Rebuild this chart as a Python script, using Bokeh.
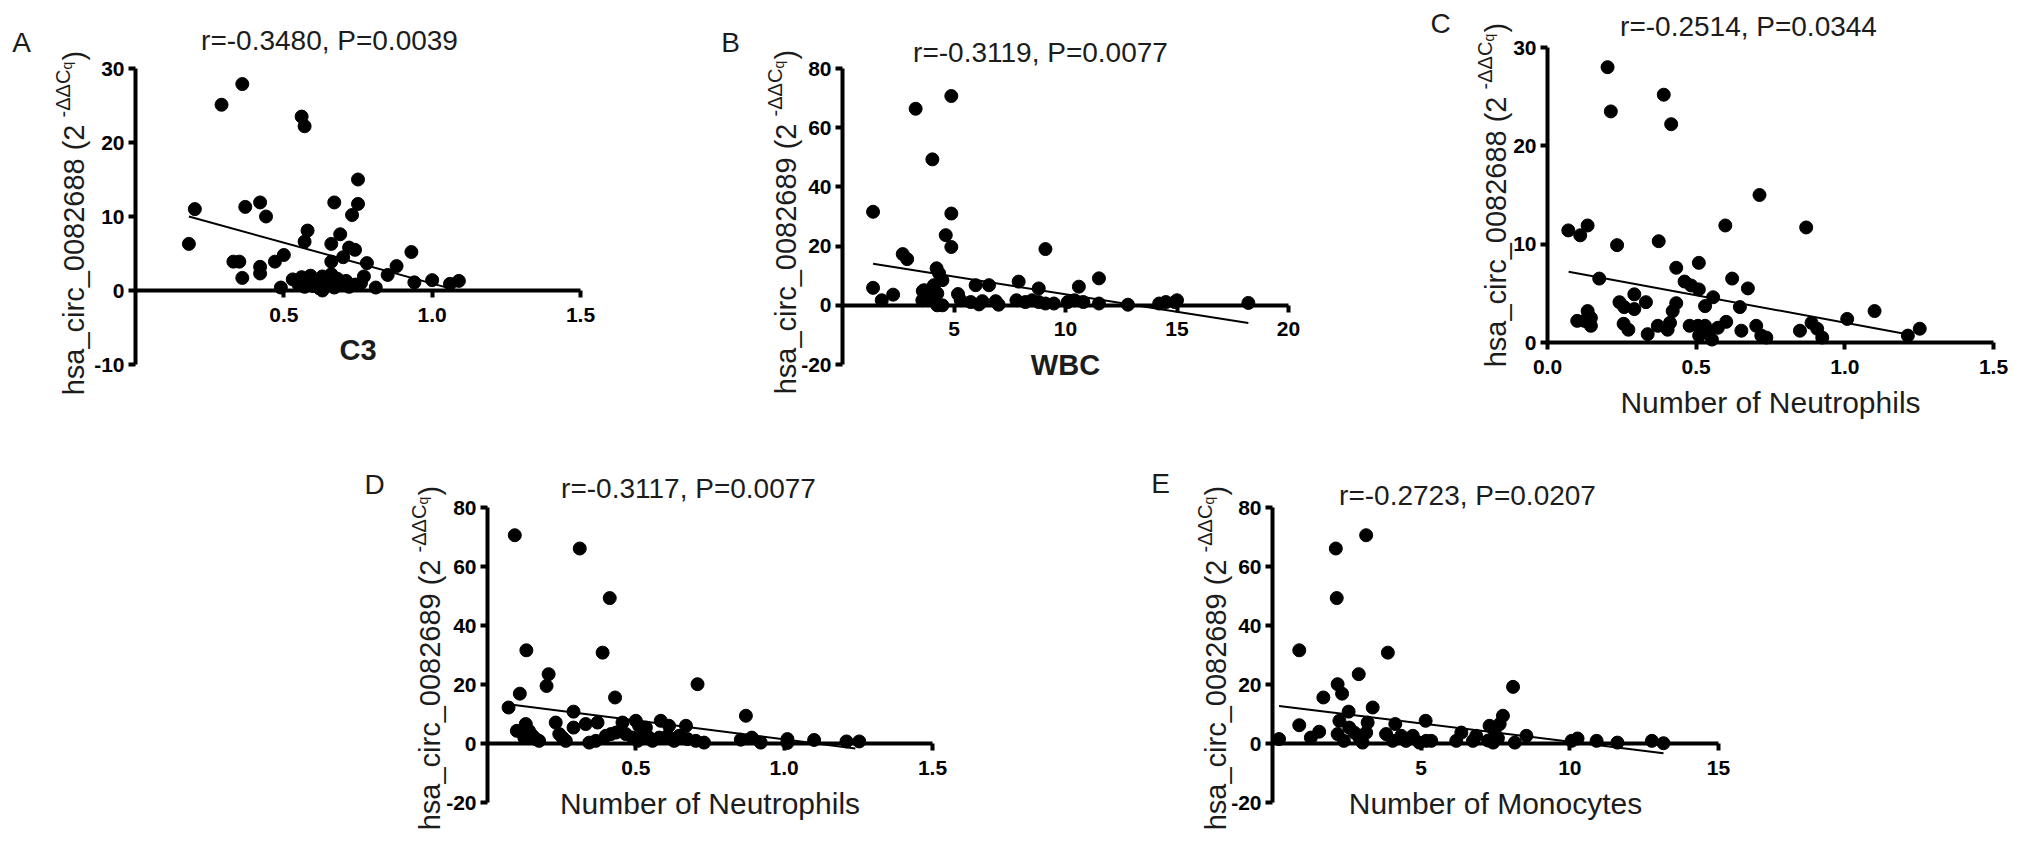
import numpy as np
from bokeh.embed import file_html
from bokeh.layouts import column, row
from bokeh.models import ColumnDataSource, FixedTicker, Label, NumeralTickFormatter, Range1d
from bokeh.plotting import figure
from bokeh.resources import INLINE

FONT = "Liberation Sans"
INK = "#1c1c1c"

# --- values ---
# A: C3 vs hsa_circ_0082688
c3_x = [0.18, 0.20, 0.29, 0.36, 0.33, 0.35, 0.36, 0.37, 0.42, 0.44, 0.42, 0.42, 0.47, 0.50, 0.49,
        0.56, 0.57, 0.58, 0.57, 0.67, 0.69, 0.66, 0.72, 0.74, 0.75, 0.75, 0.73, 0.66, 0.70, 0.78,
        0.77, 0.85, 0.88, 0.93, 0.94, 1.00, 1.06, 1.09, 0.81, 0.63,
        0.53, 0.55, 0.56, 0.57, 0.58, 0.59, 0.60, 0.61, 0.62, 0.63, 0.64, 0.65, 0.66, 0.67, 0.68,
        0.70, 0.71, 0.72, 0.74, 0.76]
c3_y = [6.3, 11.0, 25.1, 27.9, 3.9, 3.9, 1.7, 11.3, 11.9, 10.0, 3.2, 2.3, 3.9, 4.8, 0.4,
        23.5, 22.2, 8.1, 6.6, 11.9, 7.6, 6.3, 5.8, 5.5, 15.0, 11.7, 10.2, 3.9, 4.5, 3.7,
        1.9, 2.1, 3.3, 5.2, 1.1, 1.4, 0.9, 1.3, 0.4, 0.0,
        1.5, 0.8, 1.8, 0.5, 1.2, 2.0, 0.6, 1.4, 0.3, 1.9, 1.1, 0.7, 2.2, 0.4, 1.6,
        0.9, 1.3, 0.5, 0.8, 1.0]
c3_fit_x = [0.18, 1.09]
c3_fit_y = [10.0, -0.05]

# B: WBC vs hsa_circ_0082689
wbc_x = [1.37, 1.37, 1.76, 2.27, 3.28, 4.03, 4.88, 4.88, 4.63, 4.88, 2.7, 2.9, 4.22, 4.33, 4.48,
         4.1, 3.6, 3.73, 3.58, 3.96, 4.25, 4.48, 4.25, 5.18, 5.3, 5.75, 5.97, 6.57, 6.27, 6.87,
         7.0, 7.9, 7.8, 6.12, 8.2, 8.5, 8.8, 8.8, 9.1, 9.48, 9.1, 10.1, 10.4, 10.6, 10.8,
         11.5, 11.5, 12.8, 14.2, 14.5, 14.9, 15.0, 18.2, 3.66, 4.05]
wbc_y = [31.6, 5.9, 1.7, 3.6, 66.4, 49.3, 70.7, 31.0, 23.7, 19.7, 17.3, 15.6, 12.5, 10.8, 8.5,
         6.8, 4.8, 3.4, 1.7, 2.5, 0.0, 0.0, 4.0, 3.8, 1.7, 1.1, 6.8, 6.8, 1.4, 1.4,
         0.2, 8.0, 1.7, 0.3, 1.1, 1.7, 5.7, 1.1, 0.6, 0.6, 19.0, 1.1, 1.7, 6.3, 1.1,
         9.1, 0.6, 0.2, 0.6, 1.1, 1.1, 1.7, 0.8, 5.1, 5.5]
wbc_fit_x = [1.37, 18.2]
wbc_fit_y = [14.0, -6.0]

# C: neutrophils vs hsa_circ_0082688
neu_a_x = [0.07, 0.11, 0.135, 0.10, 0.135, 0.146, 0.146, 0.124, 0.174, 0.202, 0.213, 0.234, 0.242,
           0.258, 0.292, 0.292, 0.331, 0.256, 0.272, 0.337, 0.371, 0.374, 0.391, 0.416, 0.404,
           0.412, 0.421, 0.433, 0.433, 0.461, 0.483, 0.509, 0.509, 0.478, 0.506, 0.53, 0.54, 0.51,
           0.553, 0.53, 0.557, 0.573, 0.601, 0.598, 0.621, 0.647, 0.652, 0.674, 0.702, 0.713,
           0.719, 0.736, 0.87, 0.849, 0.888, 0.907, 0.924, 1.008, 1.10, 1.212, 1.252]
neu_a_y = [11.4, 10.9, 11.9, 2.2, 3.2, 2.5, 1.7, 2.2, 6.5, 28.0, 23.5, 9.9, 4.1,
           3.6, 4.9, 3.4, 4.1, 1.9, 1.3, 0.85, 1.7, 10.3, 25.2, 22.2, 1.3,
           2.0, 3.2, 4.0, 7.6, 6.2, 5.8, 8.1, 5.4, 1.7, 1.7, 1.7, 1.0, 0.7,
           0.3, 3.7, 4.6, 1.5, 2.1, 11.9, 6.5, 3.6, 1.2, 5.5, 1.7, 15.0,
           0.7, 0.5, 11.7, 1.2, 2.0, 1.4, 0.5, 2.4, 3.2, 0.7, 1.4]
neu_a_fit_x = [0.071, 1.21]
neu_a_fit_y = [7.2, 0.85]

# D: neutrophils vs hsa_circ_0082689
neu_b_x = [0.092, 0.071, 0.109, 0.131, 0.099, 0.129, 0.14, 0.152, 0.124, 0.163, 0.174, 0.206, 0.199,
           0.23, 0.242, 0.253, 0.264, 0.311, 0.29, 0.29, 0.331, 0.343, 0.371, 0.388, 0.412, 0.43,
           0.399, 0.416, 0.433, 0.365, 0.455, 0.5, 0.511, 0.466, 0.489, 0.506, 0.528, 0.545, 0.556,
           0.534, 0.584, 0.612, 0.579, 0.607, 0.629, 0.669, 0.646, 0.674, 0.708, 0.702, 0.73,
           0.871, 0.854, 0.891, 0.921, 1.011, 1.011, 1.101, 1.21, 1.253]
neu_b_y = [70.6, 12.2, 16.9, 31.6, 4.3, 6.6, 4.3, 2.6, 2.0, 1.5, 0.9, 23.5, 19.5,
           7.1, 3.2, 2.0, 0.9, 66.1, 10.8, 5.4, 6.6, 0.3, 7.1, 30.8, 49.3, 15.6,
           2.6, 3.2, 3.7, 0.9, 7.1, 7.7, 6.0, 3.2, 2.0, 0.9, 3.7, 2.0, 0.9,
           5.4, 7.7, 6.0, 2.0, 2.6, 0.9, 6.0, 2.6, 1.5, 20.1, 0.9, 0.3,
           9.4, 1.3, 2.0, 0.3, 1.5, 0.2, 1.2, 0.7, 0.7]
neu_b_fit_x = [0.071, 1.24]
neu_b_fit_y = [13.3, -1.7]

# E: monocytes vs hsa_circ_0082689
mono_x = [0.22, 0.9, 0.9, 1.29, 1.57, 1.71, 2.13, 2.16, 3.15, 2.19, 2.34, 2.9, 3.88, 3.37, 2.56,
          2.25, 2.19, 2.4, 2.58, 2.75, 2.92, 3.03, 3.15, 3.2, 4.13, 3.82, 4.04, 4.33, 4.49, 4.72,
          4.94, 5.17, 5.34, 5.15, 6.18, 6.35, 6.85, 6.74, 7.3, 7.47, 7.64, 7.25, 7.42, 7.58, 7.75,
          8.09, 8.15, 8.54, 10.06, 10.26, 10.9, 11.6, 12.76, 13.15]
mono_y = [1.5, 31.6, 6.2, 2.0, 4.0, 15.6, 66.1, 49.3, 70.6, 20.1, 16.9, 23.5, 30.8, 12.2, 10.8,
          7.7, 3.2, 0.9, 5.4, 3.7, 2.0, 0.3, 3.7, 7.1, 6.6, 3.2, 0.9, 2.6, 0.9, 2.6,
          0.3, 0.9, 0.9, 7.7, 0.9, 3.7, 2.6, 0.9, 6.0, 4.3, 6.6, 1.0, 0.3, 1.8, 9.4,
          19.2, 0.3, 2.6, 0.9, 1.7, 0.9, 0.3, 0.9, 0.1]
mono_fit_x = [0.22, 13.15]
mono_fit_y = [12.7, -3.3]

stats = ["r=-0.3480, P=0.0039", "r=-0.3119, P=0.0077", "r=-0.2514, P=0.0344",
         "r=-0.3117, P=0.0077", "r=-0.2723, P=0.0207"]
x_titles = ["C3", "WBC", "Number of Neutrophils", "Number of Neutrophils", "Number of Monocytes"]
y_titles = ["hsa_circ_0082688 (2", "hsa_circ_0082689 (2", "hsa_circ_0082688 (2",
            "hsa_circ_0082689 (2", "hsa_circ_0082689 (2"]

# each panel is one figure whose plot area fills the whole canvas; the axes are
# drawn at fixed data positions. off = pixel position of the axes corner
# (x start, y top) inside the canvas, box = pixel size of the axes extent.
PANELS = [
    dict(key="A", x=c3_x, y=c3_y, fx=c3_fit_x, fy=c3_fit_y, stat=stats[0], xt=x_titles[0], yt=y_titles[0],
         xbold=True, xr=(0, 1.5), yr=(-10, 30),
         xticks=[0.5, 1.0, 1.5], yticks=[-10, 0, 10, 20, 30], xfmt="0.0",
         canvas=(692, 422), off=(135, 68), box=(445, 296),
         letter=(-114, -26), title=(194, -28), ylab=(-62, 56)),
    dict(key="B", x=wbc_x, y=wbc_y, fx=wbc_fit_x, fy=wbc_fit_y, stat=stats[1], xt=x_titles[1], yt=y_titles[1],
         xbold=True, xr=(0, 20), yr=(-20, 80),
         xticks=[5, 10, 15, 20], yticks=[-20, 0, 20, 40, 60, 80], xfmt="0",
         canvas=(700, 422), off=(150, 68), box=(446, 296),
         letter=(-112, -26), title=(198, -16), ylab=(-57, 55)),
    dict(key="C", x=neu_a_x, y=neu_a_y, fx=neu_a_fit_x, fy=neu_a_fit_y, stat=stats[2], xt=x_titles[2], yt=y_titles[2],
         xbold=False, xr=(0, 1.5), yr=(0, 30),
         xticks=[0.0, 0.5, 1.0, 1.5], yticks=[0, 10, 20, 30], xfmt="0.0",
         canvas=(623, 422), off=(155, 47), box=(446, 295),
         letter=(-107, -24), title=(201, -21), ylab=(-52, 49)),
    dict(key="D", x=neu_b_x, y=neu_b_y, fx=neu_b_fit_x, fy=neu_b_fit_y, stat=stats[3], xt=x_titles[3], yt=y_titles[3],
         xbold=False, xr=(0, 1.5), yr=(-20, 80),
         xticks=[0.5, 1.0, 1.5], yticks=[-20, 0, 20, 40, 60, 80], xfmt="0.0",
         canvas=(1092, 414), off=(487, 85), box=(445, 295),
         letter=(-113, -23), title=(201, -19), ylab=(-58, 52)),
    dict(key="E", x=mono_x, y=mono_y, fx=mono_fit_x, fy=mono_fit_y, stat=stats[4], xt=x_titles[4], yt=y_titles[4],
         xbold=False, xr=(0, 15), yr=(-20, 80),
         xticks=[5, 10, 15], yticks=[-20, 0, 20, 40, 60, 80], xfmt="0",
         canvas=(700, 414), off=(180, 85), box=(446, 295),
         letter=(-112, -24), title=(195, -12), ylab=(-57, 52)),
]


def _note(p, spec, text, dx, dy, size, **kw):
    # text placed in pixels from the top-left corner of the axes
    p.add_layout(Label(x=spec["xr"][0], y=spec["yr"][1], x_offset=dx, y_offset=-dy, text=text,
                       text_font=FONT, text_font_size=size, text_color=INK, **kw))


def make_panel(spec):
    w, h = spec["canvas"]
    left, top = spec["off"]
    bw, bh = spec["box"]
    (x0, x1), (y0, y1) = spec["xr"], spec["yr"]
    sx = bw / (x1 - x0)
    sy = bh / (y1 - y0)
    xs = x0 - left / sx
    ye = y1 + top / sy
    p = figure(width=w, height=h, x_range=Range1d(xs, xs + w / sx), y_range=Range1d(ye - h / sy, ye),
               min_border=0, toolbar_location=None, output_backend="svg", outline_line_color=None)
    p.grid.grid_line_color = None

    for ax in (p.xaxis[0], p.yaxis[0]):
        ax.axis_line_width = 4
        ax.major_tick_line_width = 4
        ax.major_tick_out = 7
        ax.major_tick_in = 0
        ax.minor_tick_line_color = None
        ax.major_label_text_font = FONT
        ax.major_label_text_font_size = "21px"
        ax.major_label_text_font_style = "bold"
        ax.major_label_text_color = "black"

    xa = p.xaxis[0]
    xa.fixed_location = 0
    xa.bounds = spec["xr"]
    xa.ticker = FixedTicker(ticks=spec["xticks"])
    xa.formatter = NumeralTickFormatter(format=spec["xfmt"])
    xa.major_label_standoff = 10
    xa.axis_label = spec["xt"]
    xa.axis_label_text_font = FONT
    xa.axis_label_text_font_size = "29px" if spec["xbold"] else "30px"
    xa.axis_label_text_font_style = "bold" if spec["xbold"] else "normal"
    xa.axis_label_text_color = INK
    xa.axis_label_standoff = 9

    ya = p.yaxis[0]
    ya.fixed_location = x0
    ya.bounds = spec["yr"]
    ya.ticker = FixedTicker(ticks=spec["yticks"])
    ya.formatter = NumeralTickFormatter(format="0")
    ya.major_label_standoff = 4

    src = ColumnDataSource(data=dict(x=spec["x"], y=spec["y"]))
    p.line(spec["fx"], spec["fy"], line_width=2, color="black")
    p.scatter("x", "y", source=src, size=13, color="black")

    _note(p, spec, spec["key"], *spec["letter"], "28px", text_align="center", text_baseline="middle")
    _note(p, spec, spec["stat"], *spec["title"], "28px", text_align="center", text_baseline="middle")

    # rotated y title: main part, superscript -ΔΔC, subscript q, closing bracket
    dx, jy = spec["ylab"]
    rot = dict(angle=np.pi / 2, text_baseline="alphabetic")
    _note(p, spec, spec["yt"], dx, jy, "29px", text_align="right", **rot)
    _note(p, spec, "-\u0394\u0394C", dx - 11, jy - 7, "20px", text_align="left", **rot)
    _note(p, spec, "q", dx - 7, jy - 55, "14px", text_align="left", **rot)
    _note(p, spec, ")", dx, jy - 64, "29px", text_align="left", **rot)
    return p


figs = [make_panel(s) for s in PANELS]
layout = column(row(figs[0], figs[1], figs[2]), row(figs[3], figs[4]))

open("out.html", "w").write(file_html(layout, INLINE))
